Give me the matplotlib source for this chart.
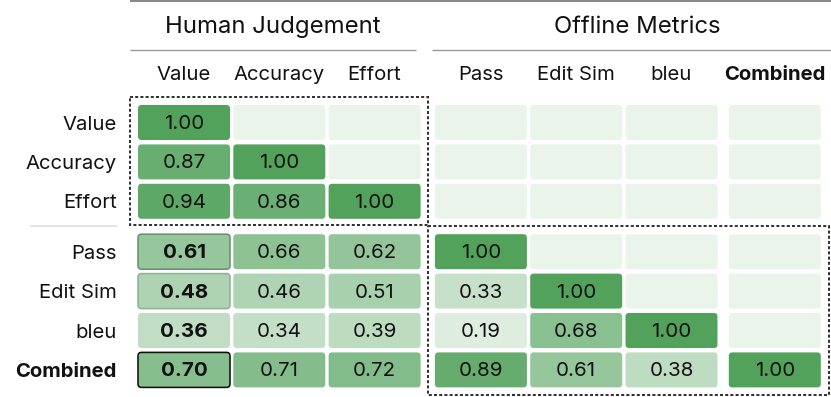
import numpy as np
import matplotlib.pyplot as plt
from matplotlib.patches import FancyBboxPatch, Rectangle

plt.rcParams['font.family'] = ['Inter', 'DejaVu Sans']

labels = ['Value', 'Accuracy', 'Effort', 'Pass', 'Edit Sim', 'bleu', 'Combined']
groups = ['Human Judgement', 'Offline Metrics']

# lower triangle of the correlation matrix, one list per row
corr_rows = [
    [1.00],
    [0.87, 1.00],
    [0.94, 0.86, 1.00],
    [0.61, 0.66, 0.62, 1.00],
    [0.48, 0.46, 0.51, 0.33, 1.00],
    [0.36, 0.34, 0.39, 0.19, 0.68, 1.00],
    [0.70, 0.71, 0.72, 0.89, 0.61, 0.38, 1.00],
]
# highlighted cells: (row, col) -> edge colour
highlight = {(3, 0): '#6d8f70', (4, 0): '#8fb392', (5, 0): None, (6, 0): '#111111'}

n = len(labels)
W, H = 831, 397
fig = plt.figure(figsize=(W / 100, H / 100), dpi=100)
ax = fig.add_axes([0, 0, 1, 1])
ax.set_xlim(0, W)
ax.set_ylim(H, 0)
ax.axis('off')

# layout in pixels
cw, ch = 92, 35
px, py = 95.3, 39.4
col_left = []
x = 138
for j in range(n):
    if j == 3:
        x += 11
    if j == 6:
        x += 8
    col_left.append(x)
    x += px
row_top = []
y = 105
for i in range(n):
    if i == 3:
        y += 11
    row_top.append(y)
    y += py

green = np.array([82, 162, 92]) / 255


def cell_color(v):
    return 1 - v * (1 - green)


px2pt = 0.72
for i in range(n):
    for j in range(n):
        x0, y0 = col_left[j], row_top[i]
        if j <= i:
            v = corr_rows[i][j]
            fc = cell_color(v)
        else:
            v = None
            fc = cell_color(0.12)
        ec = highlight.get((i, j))
        box = FancyBboxPatch((x0, y0), cw, ch, boxstyle='round,pad=0,rounding_size=3.5',
                             fc=fc, ec=ec if ec else 'none',
                             lw=1.6 * px2pt if ec else 0)
        ax.add_patch(box)
        if v is not None:
            bold = (i, j) in highlight
            ax.text(x0 + cw / 2, y0 + ch / 2 + 1.5, f'{v:.2f}', ha='center', va='center',
                    fontsize=14.8, color='#111111', fontweight='bold' if bold else 'normal')

# row labels
for i, lab in enumerate(labels):
    ax.text(117, row_top[i] + ch / 2 + 2, lab, ha='right', va='center', fontsize=14.6,
            color='#111111', fontweight='bold' if lab == 'Combined' else 'normal')
# column labels
for j, lab in enumerate(labels):
    ax.text(col_left[j] + cw / 2, 75.5, lab, ha='center', va='center', fontsize=14.6,
            color='#111111', fontweight='bold' if lab == 'Combined' else 'normal')

# group headers
ax.text(273, 27, groups[0], ha='center', va='center', fontsize=17.2, color='#111111')
ax.text(637, 27, groups[1], ha='center', va='center', fontsize=17.2, color='#111111')
ax.plot([130, W], [1, 1], color='#8a8a8a', lw=2 * px2pt, solid_capstyle='butt')
ax.plot([130, 416], [50, 50], color='#9a9a9a', lw=1.4 * px2pt, solid_capstyle='butt')
ax.plot([432, W], [50, 50], color='#9a9a9a', lw=1.4 * px2pt, solid_capstyle='butt')

# separator in the row-label column
ax.plot([30, 117], [226, 226], color='#dddddd', lw=1.6 * px2pt, solid_capstyle='butt')

# dotted group boxes
box_style = dict(fill=False, ec='#333333', lw=2.0 * px2pt, ls=(0, (1.5, 1.1)))
ax.add_patch(Rectangle((130, 97), 428 - 130, 225 - 97, **box_style))
ax.add_patch(Rectangle((428, 226), 829 - 428, 395 - 226, **box_style))

fig.savefig('out.png', dpi=100)
